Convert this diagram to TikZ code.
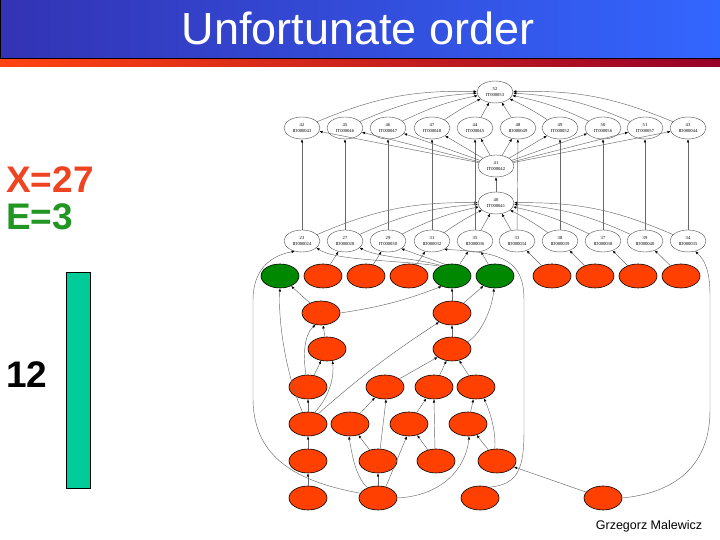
\documentclass[tikz,border=0pt]{standalone}
\usepackage{fontspec}
\setmainfont{Liberation Sans}
\newfontfamily\gvfont{Liberation Serif}
\usetikzlibrary{arrows.meta,shapes.geometric}
\definecolor{barL}{RGB}{51,51,180}
\definecolor{barR}{RGB}{51,102,255}
\definecolor{stripL}{RGB}{255,68,17}
\definecolor{stripR}{RGB}{150,0,40}
\definecolor{nred}{RGB}{255,64,0}
\definecolor{ngreen}{RGB}{0,136,0}
\definecolor{xred}{RGB}{238,68,34}
\definecolor{egreen}{RGB}{34,150,34}
\definecolor{barG}{RGB}{0,204,153}
\definecolor{edgegray}{RGB}{105,105,105}
\tikzset{
  gv/.style={ellipse, draw=black!70, line width=0.4pt, fill=white, minimum width=36pt, minimum height=22pt, inner sep=0pt, font=\gvfont\fontsize{4.6}{5.2}\selectfont, align=center},
  cn/.style={ellipse, draw=black, line width=0.6pt, minimum width=38pt, minimum height=24pt, inner sep=0pt},
  rn/.style={cn, fill=nred},
  gn/.style={cn, fill=ngreen},
  ed/.style={draw=edgegray, line width=0.45pt, -{Latex[length=3.2pt,width=2.6pt,color=black]}},
  big/.style={font=\bfseries\fontsize{37}{40}\selectfont, inner sep=0pt, anchor=base west},
}
\begin{document}
\begin{tikzpicture}[x=1pt,y=1pt]
\useasboundingbox (0,0) rectangle (720,540);
% title bar
\shade[left color=barL, right color=barR] (0,481) rectangle (720,540);
\draw[black, line width=0.9pt] (0.45,540) -- (0.45,481.3) -- (720,481.3);
\shade[left color=stripL, right color=stripR] (0,473) rectangle (720,480);
\node[text=white, font=\fontsize{45}{50}\selectfont, inner sep=0pt, anchor=base] (title) at (358,495) {Unfortunate order};
% left labels
\node[big, text=xred] (xl) at (6,347) {X=27};
\node[big, text=egreen] (el) at (6,310) {E=3};
\node[big, text=black] (tw) at (6,152) {12};
\draw[fill=barG, line width=0.6pt] (66,52) rectangle (90,268);
\node[font=\fontsize{12.5}{14}\selectfont, inner sep=0pt, anchor=base] (auth) at (649,10) {Grzegorz Malewicz};

% gray graph
\node[gv] (n52) at (495,448) {52\\IT000053};
\node[gv] (t42) at (302,412) {42\\ID000043};
\node[gv] (t45) at (345,412) {45\\IT000046};
\node[gv] (t46) at (388,412) {46\\IT000047};
\node[gv] (t47) at (432,412) {47\\IT000048};
\node[gv] (t44) at (475,412) {44\\IT000045};
\node[gv] (t48) at (518,412) {48\\ID000049};
\node[gv] (t49) at (560,412) {49\\IT000052};
\node[gv] (t50) at (603,412) {50\\IT000056};
\node[gv] (t51) at (645,412) {51\\IT000057};
\node[gv] (t43) at (688,412) {43\\ID000044};
\node[gv] (n41) at (496,374) {41\\IT000042};
\node[gv] (n40) at (496,337) {40\\IT000041};
\node[gv] (g23) at (302,299) {23\\ID000024};
\node[gv] (g27) at (345,299) {27\\ID000028};
\node[gv] (g29) at (388,299) {29\\IT000030};
\node[gv] (g31) at (432,299) {31\\ID000032};
\node[gv] (g35) at (475,299) {35\\ID000036};
\node[gv] (g33) at (517,299) {33\\ID000034};
\node[gv] (g38) at (560,299) {38\\ID000039};
\node[gv] (g37) at (603,299) {37\\ID000038};
\node[gv] (g39) at (645,299) {39\\ID000040};
\node[gv] (g34) at (688,299) {34\\ID000035};

\draw[ed] (t42) to[bend left=12] (n52);
\draw[ed] (t45) to[bend left=10] (n52);
\draw[ed] (t46) to[bend left=7] (n52);
\draw[ed] (t47) to[bend left=4] (n52);
\draw[ed] (t44) -- (n52);
\draw[ed] (t48) -- (n52);
\draw[ed] (t49) to[bend right=4] (n52);
\draw[ed] (t50) to[bend right=7] (n52);
\draw[ed] (t51) to[bend right=10] (n52);
\draw[ed] (t43) to[bend right=12] (n52);

\draw[ed] (g23) to[bend left=12] (n40);
\draw[ed] (g27) to[bend left=10] (n40);
\draw[ed] (g29) to[bend left=7] (n40);
\draw[ed] (g31) to[bend left=4] (n40);
\draw[ed] (g35) -- (n40);
\draw[ed] (g33) -- (n40);
\draw[ed] (g38) to[bend right=4] (n40);
\draw[ed] (g37) to[bend right=7] (n40);
\draw[ed] (g39) to[bend right=10] (n40);
\draw[ed] (g34) to[bend right=12] (n40);

\draw[ed] (n40) -- (n41);
\foreach \t in {t42,t45,t46,t47,t44,t48,t49,t50,t51,t43}{
  \draw[ed] (n41) -- (\t);
}
\draw[ed] (g23) -- (t42);
\draw[ed] (g27) -- (t45);
\draw[ed] (g29) -- (t46);
\draw[ed] (g31) -- (t47);
\draw[ed] (g35) -- (t44);
\draw[ed] (g33) -- (t48);
\draw[ed] (g38) -- (t49);
\draw[ed] (g37) -- (t50);
\draw[ed] (g39) -- (t51);
\draw[ed] (g34) -- (t43);

% coloured graph
\node[gn] (a1) at (280,264) {};
\node[rn] (a2) at (323,264) {};
\node[rn] (a3) at (366,264) {};
\node[rn] (a4) at (409,264) {};
\node[gn] (a5) at (452,264) {};
\node[gn] (a6) at (495,264) {};
\node[rn] (a7) at (552,264) {};
\node[rn] (a8) at (595,264) {};
\node[rn] (a9) at (638,264) {};
\node[rn] (a10) at (681,264) {};
\node[rn] (b1) at (321,227) {};
\node[rn] (b2) at (452,227) {};
\node[rn] (c1) at (327,191) {};
\node[rn] (c2) at (452,191) {};
\node[rn] (d1) at (308,153) {};
\node[rn] (d2) at (385,153) {};
\node[rn] (d3) at (434,153) {};
\node[rn] (d4) at (476,153) {};
\node[rn] (e1) at (308,116) {};
\node[rn] (e2) at (350,116) {};
\node[rn] (e3) at (409,116) {};
\node[rn] (e4) at (468,116) {};
\node[rn] (f1) at (308,79) {};
\node[rn] (f2) at (378,79) {};
\node[rn] (f3) at (436,79) {};
\node[rn] (f4) at (497,79) {};
\node[rn] (g1) at (308,42) {};
\node[rn] (g2) at (378,42) {};
\node[rn] (g3) at (480,42) {};
\node[rn] (g4) at (603,42) {};

% to gray row
\draw[ed] (a2) -- (g27);
\draw[ed] (a3) -- (g29);
\draw[ed] (a4) -- (g31);
\draw[ed] (a5) -- (g35);
\draw[ed] (a6) -- (g35);
\draw[ed] (a7) -- (g33);
\draw[ed] (a8) -- (g38);
\draw[ed] (a9) -- (g37);
\draw[ed] (a10) -- (g39);
\draw[ed] (a5.120) -- (g29.-30);
\draw[ed] (a5.135) .. controls (410,283) and (380,282) .. (g27.-25);
\draw[ed] (a5.140) .. controls (400,280) and (335,279) .. (g23.-25);

% internal edges
\draw[ed] (b1) -- (a1);
\draw[ed] (b1.east) to[bend right=6] (a5.225);
\draw[ed] (c1) -- (b1);
\draw[ed] (d1.100) .. controls (303,185) and (304,205) .. (b1.245);
\draw[ed] (d1) -- (c1);
\draw[ed] (e1.115) .. controls (284,170) and (278,225) .. (a1.south);
\draw[ed] (e1.60) .. controls (331,145) and (334,165) .. (c1.-65);
\draw[ed] (e1.45) to[bend left=4] (b2.215);
\draw[ed] (b2) -- (a5);
\draw[ed] (b2) -- (a6);
\draw[ed] (c2) -- (b2);
\draw[ed] (c2.25) .. controls (480,205) and (492,230) .. (a6.-95);
\draw[ed] (d2) -- (c2);
\draw[ed] (d3) -- (c2);
\draw[ed] (d4) -- (c2);
\draw[ed] (e1) -- (d1);
\draw[ed] (e2) -- (d2);
\draw[ed] (e3) -- (d3);
\draw[ed] (e4) -- (d4);
\draw[ed] (f1) -- (e1);
\draw[ed] (f2) -- (e2);
\draw[ed] (f3) -- (e3);
\draw[ed] (f4) -- (e4);
\draw[ed] (f2.80) -- (d2.-85);
\draw[ed] (f3.95) -- (d3.-90);
\draw[ed] (f4.100) .. controls (496,110) and (490,128) .. (d4.-55);
\draw[ed] (g1) -- (f1);
\draw[ed] (g2) -- (f2);
\draw[ed] (g4) -- (f4);
\draw[ed] (g2.135) .. controls (356,62) and (352,85) .. (e2.-95);
\draw[ed] (g2.55) -- (e3.-100);
\draw[ed] (g2.east) .. controls (440,44) and (466,70) .. (e4.-85);
\draw[ed] (g2.165) .. controls (300,58) and (254,80) .. (253,140) -- (253,240) .. controls (253,268) and (268,284) .. (g23.235);
\draw[ed] (g4.east) .. controls (682,48) and (710,80) .. (710,130) -- (710,245) .. controls (710,268) and (705,280) .. (g34.-55);
\draw[ed] (g3.50) .. controls (520,55) and (524,75) .. (524,110) -- (524,240) .. controls (524,278) and (505,288) .. (g31.-35);
\end{tikzpicture}
\end{document}
